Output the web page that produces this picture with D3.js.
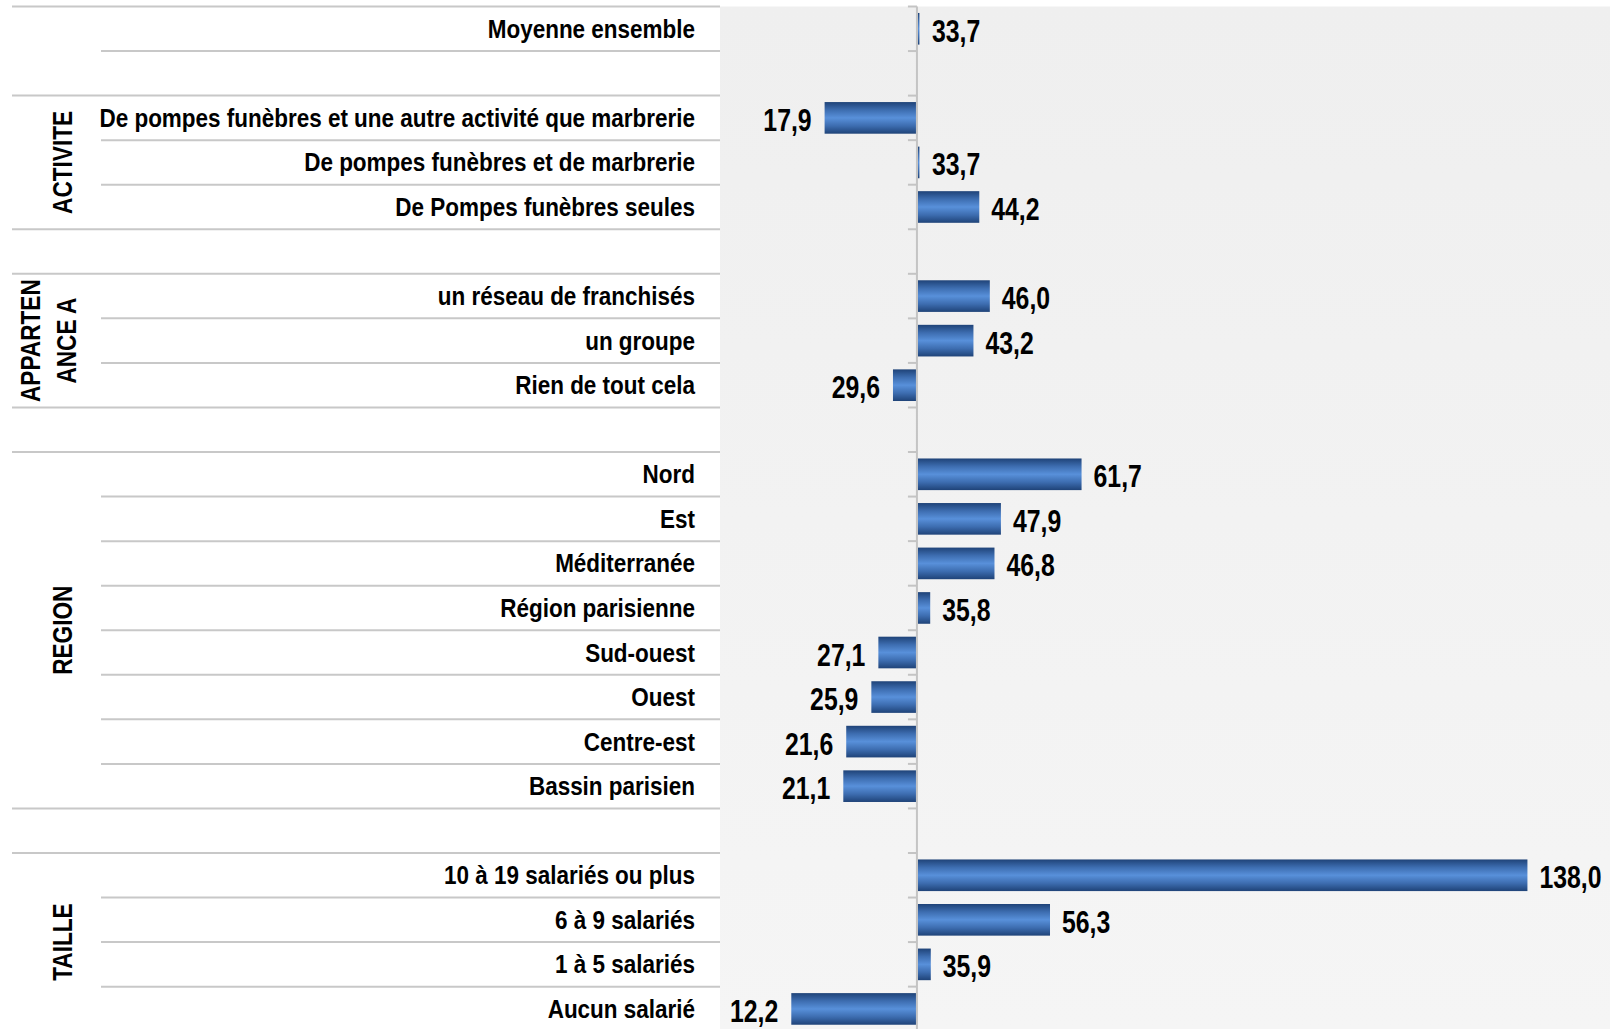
<!DOCTYPE html>
<html>
<head>
<meta charset="utf-8">
<script src="https://cdn.jsdelivr.net/npm/d3@7"></script>
<style>
  body { margin: 0; background: #fff; }
  svg { display: block; }
</style>
</head>
<body>
<div id="chart"></div>
<script>
// rows, top to bottom ("" = empty spacer row)
const categories = [
  "Moyenne ensemble", "",
  "De pompes funèbres et une autre activité que marbrerie",
  "De pompes funèbres et de marbrerie",
  "De Pompes funèbres seules", "",
  "un réseau de franchisés", "un groupe", "Rien de tout cela", "",
  "Nord", "Est", "Méditerranée", "Région parisienne", "Sud-ouest", "Ouest", "Centre-est", "Bassin parisien", "",
  "10 à 19 salariés ou plus", "6 à 9 salariés", "1 à 5 salariés", "Aucun salarié"
]
const values = [
  33.7, null,
  17.9, 33.7, 44.2, null,
  46.0, 43.2, 29.6, null,
  61.7, 47.9, 46.8, 35.8, 27.1, 25.9, 21.6, 21.1, null,
  138.0, 56.3, 35.9, 12.2
]
// second level of the category axis: label + number of rows it spans
const groupNames = [[""], ["ACTIVITE"], [""], ["APPARTEN", "ANCE A"], [""], ["REGION"], [""], ["TAILLE"]]
const groupSizes = [2, 3, 1, 3, 1, 8, 1, 4]
const crossAt = 33.7   // vertical axis crosses at the overall mean

const W = 1610, H = 1029
const plotLeft = 720, plotTop = 6.5, plotBottom = 1031.2
const font = "'Liberation Sans', Arial, sans-serif"
const narrow = 0.8   // horizontal squeeze to get an "Arial Narrow" look

const svg = d3.select("#chart").append("svg")
  .attr("width", W).attr("height", H)

const defs = svg.append("defs")

let bg = defs.append("linearGradient").attr("id", "bg")
  .attr("x1", 0).attr("y1", 0).attr("x2", 0).attr("y2", 1)
bg.append("stop").attr("offset", "0%").attr("stop-color", "#efefef")
bg.append("stop").attr("offset", "100%").attr("stop-color", "#f5f5f5")

let barGrad = defs.append("linearGradient").attr("id", "barGrad")
  .attr("x1", 0).attr("y1", 0).attr("x2", 0).attr("y2", 1)
barGrad.append("stop").attr("offset", "0%").attr("stop-color", "#1f4378")
barGrad.append("stop").attr("offset", "25%").attr("stop-color", "#3d6db0")
barGrad.append("stop").attr("offset", "50%").attr("stop-color", "#5890da")
barGrad.append("stop").attr("offset", "75%").attr("stop-color", "#3d6db0")
barGrad.append("stop").attr("offset", "100%").attr("stop-color", "#1f4378")

var x = d3.scaleLinear().domain([0, 152.3]).range([plotLeft, W])

var y = d3.scaleBand()
  .domain(d3.range(categories.length))
  .range([plotTop, plotBottom])
  .paddingInner(0.29)
  .paddingOuter(0.145)

const step = y.step()
const boundary = (i) => plotTop + i * step

// plot background
svg.append("rect")
  .attr("x", plotLeft).attr("y", plotTop)
  .attr("width", W - plotLeft).attr("height", plotBottom - plotTop)
  .attr("fill", "url(#bg)")

// group boundaries (full lines) vs row boundaries (short lines)
let groupStart = new Set([0])
let acc = 0
groupSizes.forEach((s) => { acc += s; groupStart.add(acc) })

d3.range(categories.length + 1).forEach((i) => {
  let full = groupStart.has(i)
  svg.append("line")
    .attr("x1", full ? 12 : 101).attr("x2", plotLeft)
    .attr("y1", boundary(i)).attr("y2", boundary(i))
    .attr("stroke", "#c8c8c8").attr("stroke-width", 2)
  // tick on the category axis
  svg.append("line")
    .attr("x1", x(crossAt) - 9).attr("x2", x(crossAt))
    .attr("y1", boundary(i)).attr("y2", boundary(i))
    .attr("stroke", "#c4c4c4").attr("stroke-width", 2)
})

// category labels
svg.append("g").selectAll("text")
  .data(categories)
  .enter().append("text")
  .attr("transform", (d, i) => "translate(695," + (y(i) + y.bandwidth() / 2 + 9) + ") scale(0.875,1)")
  .attr("text-anchor", "end")
  .attr("font-family", font)
  .attr("font-weight", "bold")
  .attr("font-size", 25.7)
  .attr("fill", "#000")
  .text((d) => d)

// group labels (rotated, narrow)
acc = 0
groupNames.forEach((lines, gi) => {
  let yc = boundary(acc + groupSizes[gi] / 2)
  acc += groupSizes[gi]
  lines.forEach((t, li) => {
    let xc = lines.length == 1 ? 61.5 : (li == 0 ? 30 : 66)
    svg.append("text")
      .attr("transform", "translate(" + (xc + 10) + "," + yc + ") rotate(-90) scale(" + narrow + ",1)")
      .attr("text-anchor", "middle")
      .attr("font-family", font)
      .attr("font-weight", "bold")
      .attr("font-size", 28.3)
      .text(t)
  })
})

const barData = values.map((v, i) => ({ i: i, v: v })).filter((d) => d.v != null)

// bars, from the crossing value to the category value
svg.append("g").selectAll("rect")
  .data(barData)
  .enter().append("rect")
  .attr("x", (d) => Math.min(x(d.v), x(crossAt)) + (d.v >= crossAt ? 1 : 0))
  .attr("y", (d) => y(d.i))
  .attr("width", (d) => Math.max(Math.abs(x(d.v) - x(crossAt)), 1.5))
  .attr("height", y.bandwidth())
  .attr("fill", "url(#barGrad)")

// vertical axis line
svg.append("line")
  .attr("x1", x(crossAt)).attr("x2", x(crossAt))
  .attr("y1", plotTop).attr("y2", plotBottom)
  .attr("stroke", "#c4c4c4").attr("stroke-width", 2)

// value labels
const fmt = (v) => d3.format(".1f")(v).replace(".", ",")
svg.append("g").selectAll("text")
  .data(barData)
  .enter().append("text")
  .attr("transform", (d) => {
    let lx = d.v >= crossAt ? Math.max(x(d.v), x(crossAt) + 2) + 13 : x(d.v) - 13
    let ly = y(d.i) + y.bandwidth() / 2 + 13
    return "translate(" + lx + "," + ly + ") scale(" + narrow + ",1)"
  })
  .attr("text-anchor", (d) => d.v >= crossAt ? "start" : "end")
  .attr("font-family", font)
  .attr("font-weight", "bold")
  .attr("font-size", 31)
  .attr("fill", "#000")
  .text((d) => fmt(d.v))
</script>
</body>
</html>
